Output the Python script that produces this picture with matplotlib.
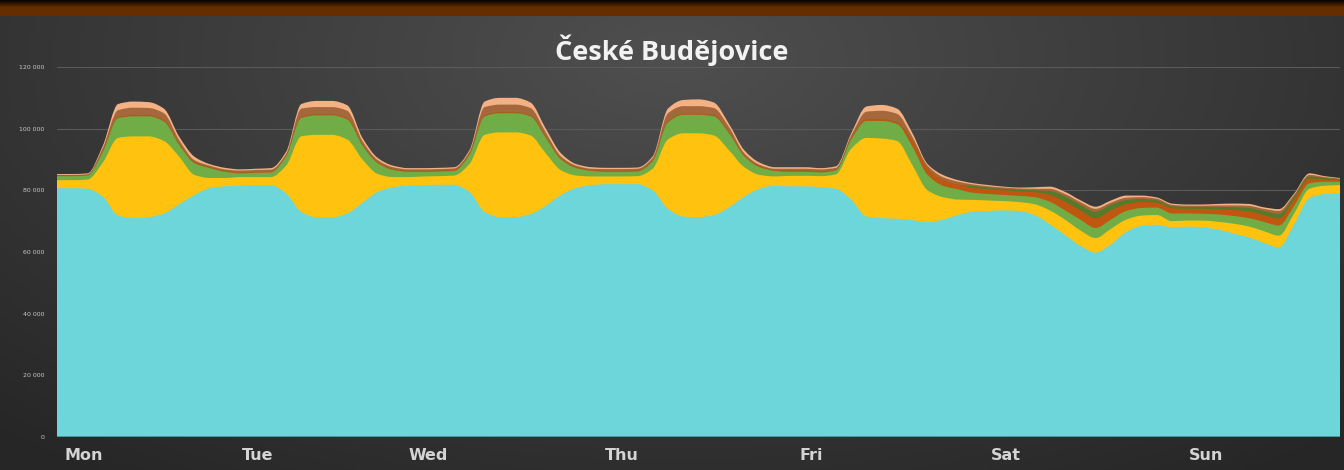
import matplotlib
matplotlib.use("Agg")
import matplotlib.pyplot as plt
from matplotlib.path import Path
from matplotlib.patches import PathPatch
import numpy as np

# hours since Monday 00:00, one sample every 2 hours
hours = list(range(0, 169, 2))

day_labels = ["Mon", "Tue", "Wed", "Thu", "Fri", "Sat", "Sun"]
day_label_hours = [3.5, 26.3, 48.6, 73.9, 98.8, 124.2, 150.5]

y_ticks = [0, 20000, 40000, 60000, 80000, 100000, 120000]

# upper edge of each stacked layer (cumulative)
cyan_top = [
    80700, 80700, 80500, 78000, 71800, 71000, 71300, 72500, 75500, 78500, 80700, 81300,
    81500, 81700, 81700, 79000, 73000, 71200, 71200, 72500, 76000, 79500, 81000, 81500,
    81700, 81800, 81800, 79500, 73000, 71300, 71300, 72300, 75000, 78500, 80800, 81700,
    82000, 82000, 82000, 80000, 74000, 71500, 71300, 72000, 74500, 78000, 80500, 81500,
    81300, 81300, 81000, 80500, 77000, 71500, 71000, 70800, 70300, 69700, 70500, 72000,
    73100, 73300, 73500, 73300, 72000, 69000, 65500, 62000, 59800, 62500, 66500, 68500,
    68800, 68000, 68200, 68000, 67300, 66000, 64800, 63000, 61500, 69000, 77500, 78800,
    79000]
yellow_top = [
    83300, 83300, 83500, 89000, 97000, 97500, 97500, 96000, 90900, 85000, 84000, 84000,
    84300, 84300, 84300, 88000, 97500, 98000, 98000, 96500, 90000, 85300, 84300, 84300,
    84500, 84600, 84800, 88500, 98000, 98800, 98800, 97800, 92000, 86500, 84800, 84500,
    84500, 84500, 84600, 87000, 96500, 98500, 98500, 97800, 93000, 87500, 85000, 84500,
    84700, 84700, 84600, 85200, 93500, 97000, 96800, 96000, 88200, 80000, 77800, 77000,
    76900, 76700, 76500, 76200, 75500, 73500, 70500, 67000, 64500, 67500, 70500, 71800,
    72000, 70000, 70200, 70200, 69800, 69200, 68300, 66800, 65300, 72500, 80500, 81500,
    81700]
green_top = [
    84600, 84600, 84800, 92500, 103400, 104000, 104000, 102300, 94700, 88800, 87200, 86000,
    85500, 85700, 85800, 91000, 103500, 104300, 104300, 103000, 94500, 88800, 86600, 86000,
    86000, 86100, 86300, 91500, 104000, 105000, 105000, 104000, 97000, 90000, 87200, 86300,
    86000, 86000, 86100, 89500, 102000, 104500, 104500, 104000, 98500, 91000, 87500, 86300,
    86000, 86000, 85800, 86500, 96500, 102500, 102500, 101500, 94200, 85000, 81500, 80300,
    79200, 78800, 78500, 78200, 77800, 76300, 73500, 70500, 67800, 70500, 73300, 74300,
    74400, 72500, 72500, 72400, 72200, 71700, 71000, 69800, 68600, 75000, 82300, 82800,
    82800]
orange_top = [
    84800, 84800, 85000, 92800, 103700, 104300, 104300, 102600, 95000, 89100, 87500, 86300,
    85700, 85900, 86000, 91300, 103800, 104600, 104600, 103300, 94800, 89100, 86900, 86300,
    86300, 86400, 86600, 91800, 104300, 105300, 105300, 104300, 97300, 90300, 87500, 86600,
    86300, 86300, 86400, 89800, 102300, 104800, 104800, 104300, 98800, 91300, 87800, 86600,
    86400, 86400, 86200, 86800, 97000, 103000, 103000, 102000, 96000, 87000, 83300, 81800,
    80800, 80300, 80000, 79700, 79400, 78500, 76300, 73500, 71000, 73500, 75500, 76200,
    76000, 74200, 74000, 74000, 73800, 73600, 73200, 72000, 70900, 77000, 83800, 83600,
    83300]
dark_green_top = [
    84800, 84800, 85000, 92800, 103700, 104300, 104300, 102600, 95000, 89100, 87500, 86300,
    85700, 85900, 86000, 91300, 103800, 104600, 104600, 103300, 94800, 89100, 86900, 86300,
    86300, 86400, 86600, 91800, 104300, 105300, 105300, 104300, 97300, 90300, 87500, 86600,
    86300, 86300, 86400, 89800, 102300, 104800, 104800, 104300, 98800, 91300, 87800, 86600,
    86400, 86400, 86200, 86800, 97000, 103000, 103000, 102000, 96000, 87000, 83300, 81800,
    81400, 80900, 80500, 80200, 80000, 79800, 78000, 75300, 73000, 75300, 76800, 77200,
    76800, 74800, 74600, 74600, 74600, 74500, 74300, 73300, 72300, 78000, 84500, 84000,
    83600]
brown_top = [
    85000, 85000, 85200, 93800, 106000, 106800, 106700, 105000, 96300, 89800, 88000, 86800,
    86400, 86600, 86700, 91800, 106500, 107000, 107000, 105800, 96000, 89800, 87500, 86800,
    86800, 86900, 87100, 92500, 107000, 107800, 107800, 106700, 98800, 91000, 88000, 87000,
    86900, 86900, 87000, 90500, 105000, 107300, 107300, 106700, 100500, 92000, 88300, 87000,
    87000, 87000, 86800, 87300, 97800, 105500, 105800, 104800, 97400, 88000, 84300, 82800,
    81900, 81300, 80900, 80600, 80500, 80500, 78800, 76200, 74000, 76000, 77600, 77800,
    77300, 75300, 75000, 75000, 75100, 75100, 75000, 74000, 73300, 78600, 85000, 84300,
    83800]
peach_top = [
    85300, 85300, 85500, 94500, 108000, 108800, 108600, 106500, 97400, 90900, 88500, 87300,
    86800, 87000, 87200, 92500, 108000, 109000, 109000, 107600, 97000, 90500, 88000, 87200,
    87200, 87300, 87500, 93000, 108800, 110000, 110000, 108500, 100000, 92000, 88500, 87500,
    87300, 87300, 87400, 91000, 106500, 109300, 109500, 108500, 101500, 93000, 89000, 87500,
    87500, 87500, 87200, 87800, 98500, 107200, 107700, 106500, 98600, 88500, 85000, 83300,
    82300, 81700, 81200, 80900, 81000, 81200, 79500, 76800, 74700, 76700, 78300, 78300,
    77700, 75700, 75400, 75400, 75600, 75700, 75600, 74500, 73900, 79000, 85500, 84600,
    84000]

layers = [cyan_top, yellow_top, green_top, orange_top, dark_green_top, brown_top, peach_top]
colors = ["#6dd6da", "#ffc20e", "#70ad47", "#c0560f", "#557a2a", "#a5683c", "#f4b183"]


def smooth_area(xs, ys):
    # closed area under a smooth bezier curve through the points,
    # with monotone tangents so the curve never overshoots the data
    xs = np.asarray(xs, float)
    ys = np.asarray(ys, float)
    n = len(xs)
    h = np.diff(xs)
    d = np.diff(ys) / h
    m = np.zeros(n)
    m[0], m[-1] = d[0], d[-1]
    for i in range(1, n - 1):
        if d[i - 1] * d[i] <= 0:
            m[i] = 0.0
        else:
            m[i] = 2.0 / (1.0 / d[i - 1] + 1.0 / d[i])
    verts = [(xs[0], 0.0), (xs[0], ys[0])]
    codes = [Path.MOVETO, Path.LINETO]
    for i in range(n - 1):
        c1 = (xs[i] + h[i] / 3, ys[i] + m[i] * h[i] / 3)
        c2 = (xs[i + 1] - h[i] / 3, ys[i + 1] - m[i + 1] * h[i] / 3)
        verts += [c1, c2, (xs[i + 1], ys[i + 1])]
        codes += [Path.CURVE4] * 3
    verts += [(xs[-1], 0.0), (xs[0], 0.0)]
    codes += [Path.LINETO, Path.CLOSEPOLY]
    return Path(verts, codes)


W, H = 1344, 470
fig = plt.figure(figsize=(W / 100, H / 100), dpi=100)

# dark background with soft lighter centre
bg = fig.add_axes([0, 0, 1, 1])
gx, gy = np.meshgrid(np.linspace(0, 1, 400), np.linspace(0, 1, 150))
r = np.sqrt(((gx - 0.5) / 0.75) ** 2 + ((gy - 0.12) / 1.1) ** 2)
shade = np.clip(0.31 - 0.16 * r, 0.15, 0.31)
bg.imshow(np.dstack([shade, shade, shade]), extent=[0, 1, 0, 1], aspect="auto", origin="upper")
# brown band at the very top
band = np.clip(np.linspace(0, 1, 30) * 2.2, 0, 1)[:, None]
band_rgb = np.dstack([0.02 + 0.38 * band, 0.01 + 0.17 * band, 0.0 * band])
bg.imshow(np.repeat(band_rgb, 10, axis=1), extent=[0, 1, 1 - 16 / H, 1], aspect="auto", origin="upper")
bg.set_xlim(0, 1)
bg.set_ylim(0, 1)
bg.axis("off")

ax = fig.add_axes([57 / W, 33 / H, (1340 - 57) / W, 370 / H])
ax.patch.set_alpha(0)

# draw the tallest cumulative area first, each lower layer on top of it
for k in range(len(layers) - 1, -1, -1):
    patch = PathPatch(smooth_area(hours, layers[k]), facecolor=colors[k],
                      edgecolor="none", zorder=3 + (len(layers) - k) * 0.01)
    ax.add_patch(patch)

ax.set_xlim(0, 168)
ax.set_ylim(0, 120000)
ax.set_yticks(y_ticks)
ax.set_yticklabels(["0" if v == 0 else f"{v:,}".replace(",", " ") for v in y_ticks],
                   fontsize=4.5, color="#c8c8c8")
ax.grid(axis="y", color="#5a5a5a", linewidth=0.8, zorder=1)
ax.set_xticks(day_label_hours)
ax.set_xticklabels(day_labels, fontsize=11.5, fontweight="bold", color="#d4d4d4",
                   family="DejaVu Sans")
ax.tick_params(axis="both", length=0)
ax.tick_params(axis="x", pad=8)
ax.tick_params(axis="y", pad=9)
for s in ax.spines.values():
    s.set_visible(False)
ax.axhline(0, color="#3f8f93", linewidth=1.2, zorder=4)

fig.text(672 / W, 1 - 50 / H, "České Budějovice", ha="center", va="center",
         fontsize=19.5, fontweight="bold", color="#f2f2f2", family="Open Sans")

fig.savefig("out.png", dpi=100, facecolor="#2e2e2e")
